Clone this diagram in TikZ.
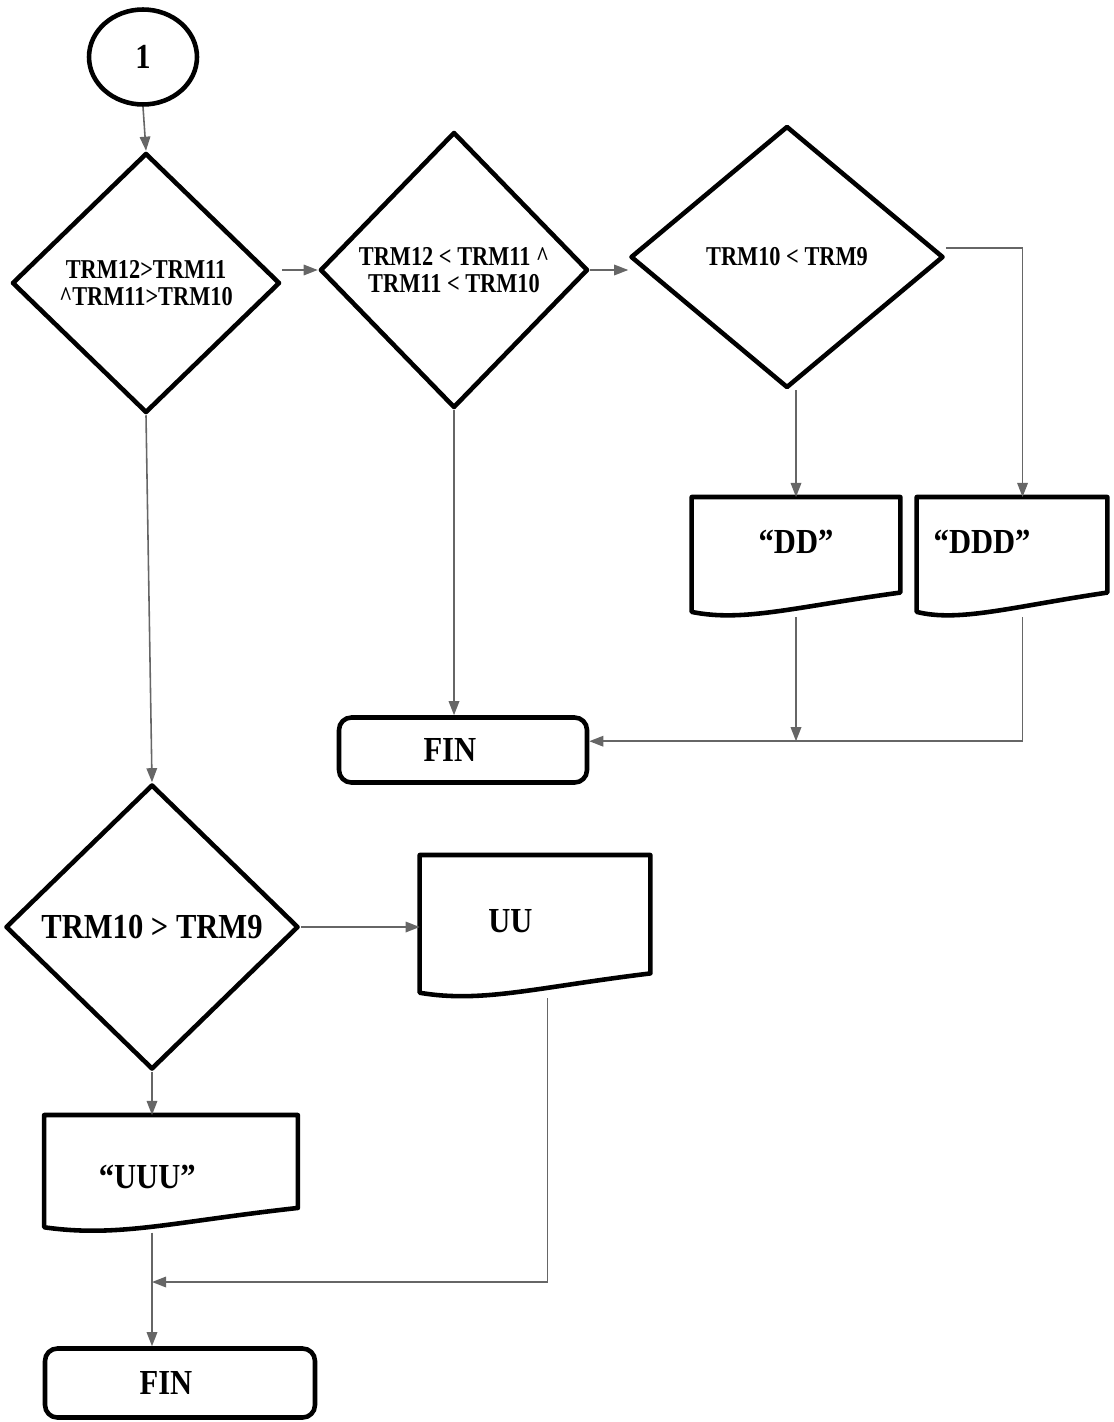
\documentclass[tikz,border=0pt]{standalone}
\usepackage{fontspec}
\setmainfont{Liberation Serif}
\newfontfamily\condserif{Liberation Serif}[Ligatures=TeX,FakeStretch=0.82]
\newfontfamily\wideserif{Liberation Serif}[Ligatures=TeX,FakeStretch=0.87]
\usetikzlibrary{shapes.geometric,arrows.meta}

\tikzset{
	outline/.style={draw=black,line width=2.6pt,line join=round},
	smalltxt/.style={font=\condserif\bfseries\fontsize{15.5}{15}\selectfont},
	bigtxt/.style={font=\wideserif\bfseries\fontsize{20}{22}\selectfont},
	choice/.style={diamond,outline,inner sep=0pt,align=center,smalltxt},
	printout/.style={rectangle,inner sep=0pt,anchor=north,bigtxt},
	terminal/.style={rectangle,outline,rounded corners=7pt,inner sep=0pt,bigtxt},
	flow/.style={draw=black!60,line width=0.9pt,-{Triangle[length=8pt,width=6pt]}}
}

\begin{document}
\begin{tikzpicture}[x=0.02cm,y=-0.02cm]
	\useasboundingbox (0,0) rectangle (1114,1422);

	\node[ellipse,outline,minimum width=2.16cm,minimum height=1.9cm,bigtxt] (C1) at (143,57) {1};

	\node[choice,minimum width=5.36cm,minimum height=5.2cm] (D1) at (146,283) {TRM12>TRM11\\\textasciicircum TRM11>TRM10};
	\node[choice,minimum width=5.36cm,minimum height=5.52cm] (D2) at (454,270) {TRM12 < TRM11 \textasciicircum\\TRM11 < TRM10};
	\node[choice,minimum width=6.26cm,minimum height=5.24cm] (D3) at (787,257) {TRM10 < TRM9};
	\node[choice,minimum width=5.86cm,minimum height=5.7cm,bigtxt] (D4) at (152,927) {TRM10 > TRM9};

	\node[printout,minimum width=4.16cm,text height=32pt,text depth=36pt] (DD) at (796,497) {``DD''};
	\node[printout,minimum width=3.8cm,text height=32pt,text depth=36pt] (DDD) at (1012,497) {``DDD''\hspace*{34pt}};
	\node[printout,minimum width=4.6cm,text height=44pt,text depth=37pt] (UU) at (535,855) {UU\hspace*{28pt}};
	\node[printout,minimum width=5.06cm,text height=41.5pt,text depth=25pt] (UUU) at (171,1115) {``UUU''\hspace*{27pt}};

	\foreach \n in {DD,DDD,UU,UUU}
		\draw[outline] ([yshift=3pt]\n.south west) -- (\n.north west) -- (\n.north east) -- ([yshift=14pt]\n.south east)
			.. controls ([yshift=6pt]\n.south) and ([xshift=-30pt,yshift=-3pt]\n.south) .. ([yshift=3pt]\n.south west) -- cycle;

	\node[terminal,minimum width=4.96cm,minimum height=1.3cm] (FIN1) at (463,750) {FIN\hspace*{15pt}};
	\node[terminal,minimum width=5.4cm,minimum height=1.38cm] (FIN2) at (180,1383) {FIN\hspace*{16pt}};

	\coordinate (J1) at ([yshift=5pt]FIN1.east);
	\coordinate (J2) at (152,1282);

	\draw[flow] (C1.south) -- (D1.north);
	\draw[flow] (D1.east |- D2.west) -- (D2.west);
	\draw[flow] (D2.east) -- (D2.east -| D3.west);
	\draw[flow] (D3.south -| DD.north) -- (DD.north);
	\draw[flow] ([yshift=5pt]D3.east) -| ([xshift=6pt]DDD.north);
	\draw[flow] (DD.south) -- (DD.south |- J1);
	\draw[flow] ([xshift=6pt]DDD.south) |- (J1);
	\draw[flow] (D2.south) -- (D2.south |- FIN1.north);
	\draw[flow] (D1.south) -- (D4.north);
	\draw[flow] (D4.east) -- (D4.east -| UU.west);
	\draw[flow] (D4.south) -- (D4.south |- UUU.north);
	\draw[flow] (D4.south |- UUU.south) -- (D4.south |- FIN2.north);
	\draw[flow] ([xshift=7pt]UU.south) |- (J2);
\end{tikzpicture}
\end{document}
